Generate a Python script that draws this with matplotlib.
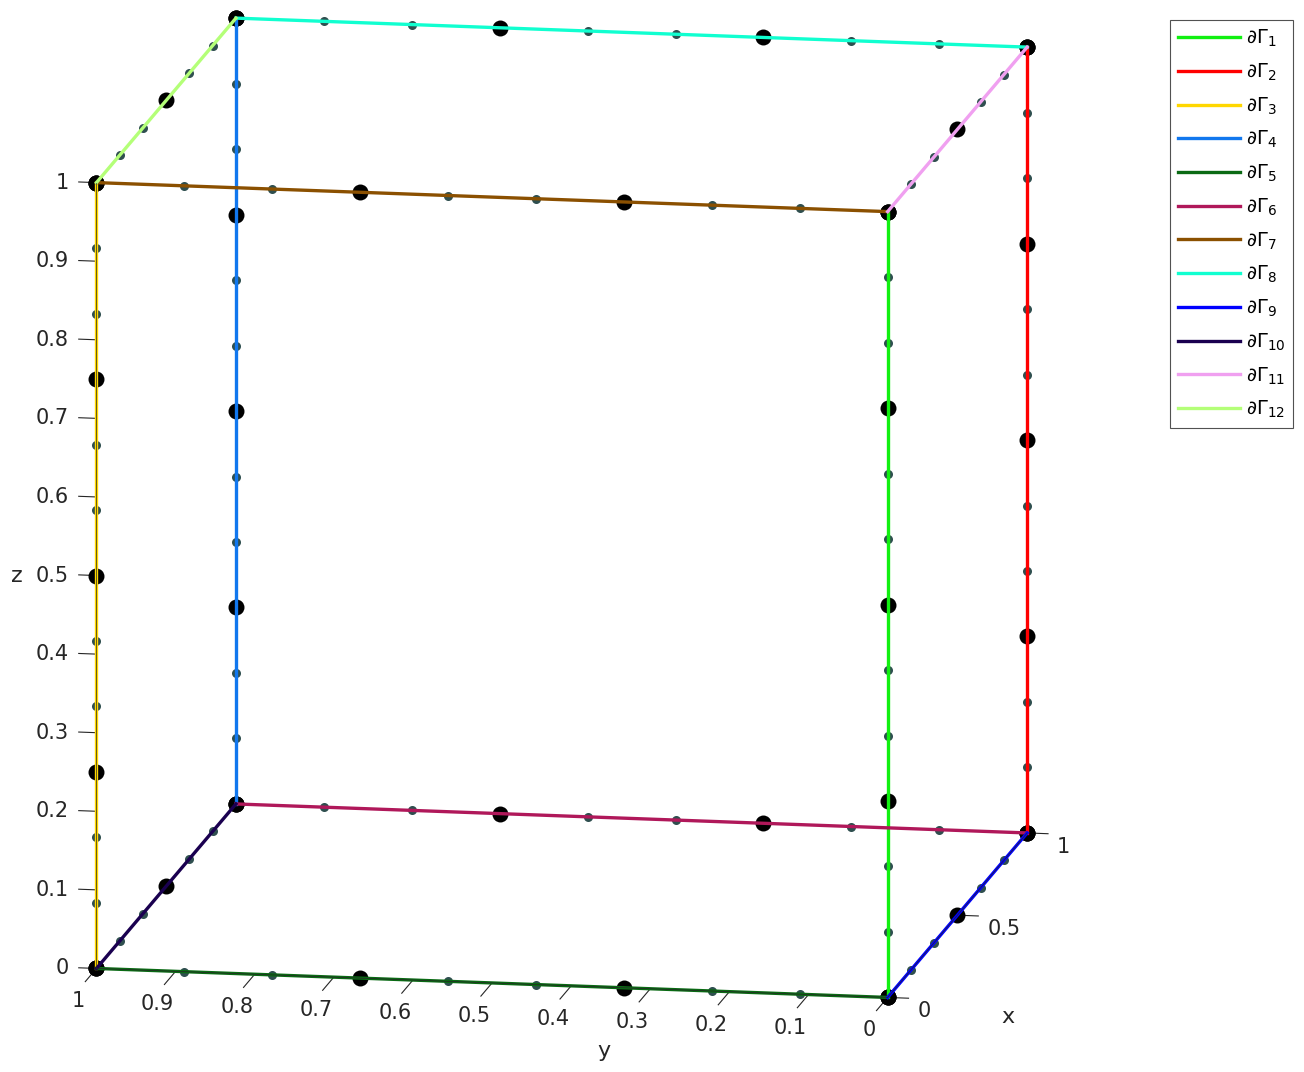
import numpy as np
import matplotlib.pyplot as plt
from matplotlib.transforms import offset_copy

# edge labels and colours
edge_labels = [r'$\partial\Gamma_{%d}$' % k for k in range(1, 13)]
edge_colors = ['#11f011', '#ff0000', '#ffd700', '#1177ee',
               '#0a6a14', '#b0185a', '#8b5000', '#11ffd0',
               '#0000ff', '#1a0050', '#f0a0f0', '#b4ff78']
# direction each edge runs along, and its two fixed coordinates
edge_dir = ['z', 'z', 'z', 'z', 'y', 'y', 'y', 'y', 'x', 'x', 'x', 'x']
edge_fixed = [(0, 0), (1, 0), (0, 1), (1, 1),
              (0, 0), (1, 0), (0, 1), (1, 1),
              (0, 0), (1, 0), (0, 1), (1, 1)]
# edges that carry the axis lines (drawn on top, like MATLAB does)
axis_edges = [2, 4, 8]

# fine (small dots) and coarse (big dots) nodes along each direction
x_fine = [0, 1/6, 2/6, 3/6, 4/6, 5/6, 1]
x_coarse = [0, 1/2, 1]
y_fine = [0, 1/9, 2/9, 3/9, 4/9, 5/9, 6/9, 7/9, 8/9, 1]
y_coarse = [0, 1/3, 2/3, 1]
z_fine = [0, 1/12, 2/12, 3/12, 4/12, 5/12, 6/12, 7/12, 8/12, 9/12, 10/12, 11/12, 1]
z_coarse = [0, 1/4, 2/4, 3/4, 1]

x_ticks = [0, 0.5, 1]
x_ticklabels = ['0', '0.5', '1']
y_ticks = [0, 0.1, 0.2, 0.3, 0.4, 0.5, 0.6, 0.7, 0.8, 0.9, 1]
y_ticklabels = ['0', '0.1', '0.2', '0.3', '0.4', '0.5', '0.6', '0.7', '0.8', '0.9', '1']
z_ticks = [0, 0.1, 0.2, 0.3, 0.4, 0.5, 0.6, 0.7, 0.8, 0.9, 1]
z_ticklabels = ['0', '0.1', '0.2', '0.3', '0.4', '0.5', '0.6', '0.7', '0.8', '0.9', '1']

fine = {'x': x_fine, 'y': y_fine, 'z': z_fine}
coarse = {'x': x_coarse, 'y': y_coarse, 'z': z_coarse}
txt_col = '#262626'


def edge_points(d, fixed, t):
    t = np.asarray(t, dtype=float)
    a = np.full_like(t, fixed[0])
    b = np.full_like(t, fixed[1])
    if d == 'z':
        return a, b, t
    if d == 'y':
        return a, t, b
    return t, a, b


fig = plt.figure(figsize=(13.04, 10.72), dpi=100)
ax = fig.add_axes([-0.0416, -0.0488, 0.92, 1.12], projection='3d', computed_zorder=False)
ax.set_proj_type('ortho')
ax.view_init(elev=12, azim=-170)
ax.set_box_aspect((1, 1, 1), zoom=1.126)

handles = []
for i in range(12):
    d, fx = edge_dir[i], edge_fixed[i]
    xs, ys, zs = edge_points(d, fx, fine[d])
    ax.plot(xs, ys, zs, 'o', ms=6.5, color='#2f4f4f', mec='none', zorder=3)
    xs, ys, zs = edge_points(d, fx, coarse[d])
    ax.plot(xs, ys, zs, 'o', ms=11.5, color='k', mec='none', zorder=4)
for i in range(12):
    d, fx = edge_dir[i], edge_fixed[i]
    xs, ys, zs = edge_points(d, fx, [0, 1])
    h, = ax.plot(xs, ys, zs, '-', lw=2.4, color=edge_colors[i], zorder=5,
                 label=edge_labels[i])
    handles.append(h)
for i in axis_edges:
    d, fx = edge_dir[i], edge_fixed[i]
    xs, ys, zs = edge_points(d, fx, [0, 1])
    ax.plot(xs, ys, zs, '-', lw=0.5, color=txt_col, zorder=6)

ax.set_xlim(0, 1)
ax.set_ylim(0, 1)
ax.set_zlim(0, 1)
ax.grid(False)
for axis in (ax.xaxis, ax.yaxis, ax.zaxis):
    axis.set_pane_color((1, 1, 1, 0))
    axis.pane.set_edgecolor((1, 1, 1, 0))
    axis.line.set_color(txt_col)
    axis.line.set_linewidth(0.8)
    axis._axinfo['tick']['inward_factor'] = 0.0
    axis._axinfo['tick']['linewidth'] = {True: 0.8, False: 0.5}
    axis.set_tick_params(labelbottom=False, color=txt_col)
    axis.label.set_visible(False)
# MATLAB-like tick lengths (ticks point out of the box)
ax.xaxis._axinfo['tick']['outward_factor'] = -0.33
ax.yaxis._axinfo['tick']['outward_factor'] = -1.0
ax.zaxis._axinfo['tick']['outward_factor'] = 0.28
# z ticks run horizontally (along y) as in MATLAB
ax.zaxis._get_tickdir = lambda *args, **kwargs: 1

ax.set_xticks(x_ticks)
ax.set_yticks(y_ticks)
ax.set_zticks(z_ticks)


def off(dx, dy):
    return offset_copy(ax.transData, fig=fig, x=dx, y=dy, units='dots')


fs = 15
for v, s in zip(z_ticks, z_ticklabels):
    ax.text(0, 1, v, s, transform=off(-28, 0), ha='right', va='center',
            fontsize=fs, color=txt_col)
for v, s in zip(y_ticks, y_ticklabels):
    ax.text(0, v, 0, s, transform=off(-18, -33), ha='center', va='center',
            fontsize=fs, color=txt_col)
for v, s in zip(x_ticks, x_ticklabels):
    ax.text(v, 0, 0, s, transform=off(30, -14), ha='left', va='center',
            fontsize=fs, color=txt_col)

ax.text(0, 1, 0.5, 'z', transform=off(-80, 0), ha='center', va='center',
        fontsize=16, color=txt_col)
ax.text(0, 0.5, 0, 'y', transform=off(112, -68), ha='center', va='center',
        fontsize=16, color=txt_col)
ax.text(0.5, 0, 0, 'x', transform=off(51, -102), ha='center', va='center',
        fontsize=16, color=txt_col)

leg = fig.legend(handles=handles, loc='upper right', bbox_to_anchor=(0.9916, 0.9813),
                 borderaxespad=0, fontsize=14, frameon=True, fancybox=False,
                 edgecolor=txt_col, handlelength=3.2, handletextpad=0.3,
                 labelspacing=0.64, borderpad=0.4)
leg.get_frame().set_linewidth(0.8)

fig.savefig('out.png', dpi=100)
